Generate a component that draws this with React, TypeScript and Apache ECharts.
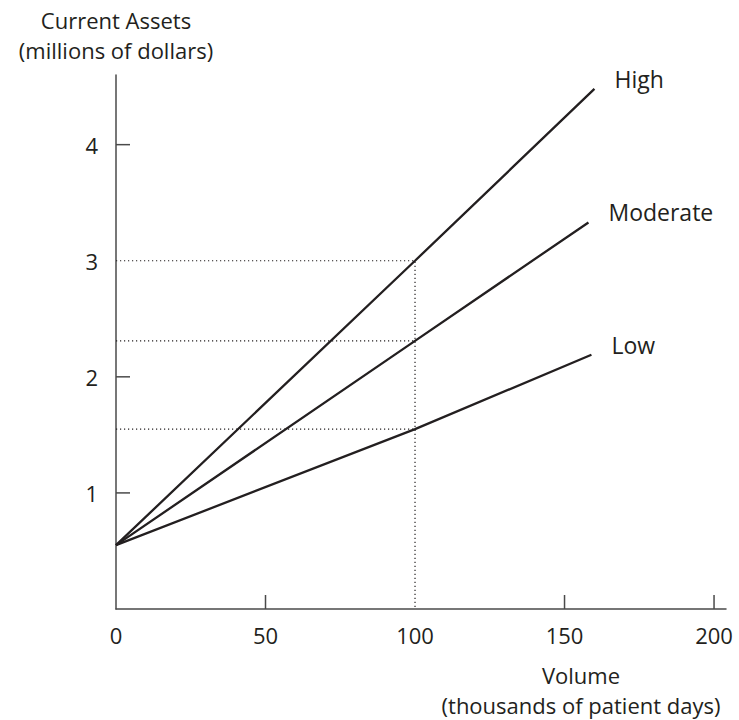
import { useEffect, useRef } from "react";
import * as echarts from "echarts";

const seriesNames = ["High", "Moderate", "Low"];
const startVolume = 0;
const referenceVolume = 100;
const endVolumes = [160, 158, 159];
const startAssets = 0.55;
const assetsAtReference = [3.0, 2.31, 1.55];
const endAssets = [4.48, 3.33, 2.19];
const xTicks = [50, 150, 200];
const yTicks = [1, 2, 4];
const xTickLabels = [0, 50, 100, 150, 200];
const yTickLabels = [1, 2, 3, 4];
const yAxisTitleLines = ["Current Assets", "(millions of dollars)"];
const xAxisTitleLines = ["Volume", "(thousands of patient days)"];

const INK = "#231f20";
const AXIS = "#4a4a4a";
const FONT = "Open Sans";

export default function App() {
  const ref = useRef<HTMLDivElement>(null);
  useEffect(() => {
    document.body.style.margin = "0";
    if (!ref.current) return;
    const chart = echarts.init(ref.current, undefined, { renderer: "svg" });

    const lineSeries = seriesNames.map((name, i) => ({
      type: "line",
      name,
      silent: true,
      symbol: "none",
      lineStyle: { color: INK, width: 2.3 },
      endLabel: {
        show: true,
        formatter: name,
        distance: 20,
        offset: [0, -10],
        color: INK,
        fontFamily: FONT,
        fontSize: 23,
      },
      data: [
        [startVolume, startAssets],
        [referenceVolume, assetsAtReference[i]],
        [endVolumes[i], endAssets[i]],
      ],
    }));

    const guideSeries = assetsAtReference.map((level, i) => ({
      type: "line",
      silent: true,
      symbol: "none",
      lineStyle: { color: INK, width: 1.2, type: [1.2, 2.8] },
      data:
        i === 0
          ? [
              [startVolume, level],
              [referenceVolume, level],
              [referenceVolume, 0],
            ]
          : [
              [startVolume, level],
              [referenceVolume, level],
            ],
      z: 1,
    }));

    const tickData = [
      ...xTicks.map((v) => [v, 0, 0]),
      ...yTicks.map((v) => [0, v, 1]),
    ];

    const tickSeries = {
      type: "custom",
      silent: true,
      clip: false,
      encode: { x: 0, y: 1 },
      data: tickData,
      renderItem: (_params: any, api: any) => {
        const p = api.coord([api.value(0), api.value(1)]);
        const horizontalAxis = api.value(2) === 0;
        return {
          type: "line",
          shape: horizontalAxis
            ? { x1: p[0], y1: p[1], x2: p[0], y2: p[1] - 14 }
            : { x1: p[0], y1: p[1], x2: p[0] + 14, y2: p[1] },
          style: { stroke: AXIS, lineWidth: 1.5 },
        };
      },
    };

    const titleText = (text: string, x: number, y: number) => ({
      type: "text",
      x,
      y,
      style: {
        text,
        fontSize: 22,
        fill: INK,
        fontFamily: FONT,
        textAlign: "center",
        textVerticalAlign: "middle",
      },
    });

    chart.setOption({
      animation: false,
      backgroundColor: "#ffffff",
      textStyle: { fontFamily: FONT, color: INK },
      grid: { left: 116, top: 75, width: 610, height: 534 },
      xAxis: {
        type: "value",
        min: 0,
        max: 204,
        interval: 50,
        splitLine: { show: false },
        axisTick: { show: false },
        axisLine: { show: true, lineStyle: { color: AXIS, width: 1.5 } },
        axisLabel: {
          margin: 15,
          fontSize: 22,
          color: INK,
          fontFamily: FONT,
          showMaxLabel: false,
          formatter: (v: number) => (xTickLabels.includes(v) ? String(v) : ""),
        },
      },
      yAxis: {
        type: "value",
        min: 0,
        max: 4.6,
        interval: 1,
        splitLine: { show: false },
        axisTick: { show: false },
        axisLine: { show: true, lineStyle: { color: AXIS, width: 1.5 } },
        axisLabel: {
          margin: 18,
          fontSize: 22,
          color: INK,
          fontFamily: FONT,
          showMaxLabel: false,
          formatter: (v: number) => (yTickLabels.includes(v) ? String(v) : ""),
        },
      },
      graphic: [
        titleText(yAxisTitleLines[0], 116, 19.5),
        titleText(yAxisTitleLines[1], 116, 50),
        titleText(xAxisTitleLines[0], 581, 674.5),
        titleText(xAxisTitleLines[1], 581, 705),
      ],
      series: [...guideSeries, ...lineSeries, tickSeries],
    });
    return () => chart.dispose();
  }, []);
  return <div ref={ref} style={{ width: 739, height: 720 }} />;
}
